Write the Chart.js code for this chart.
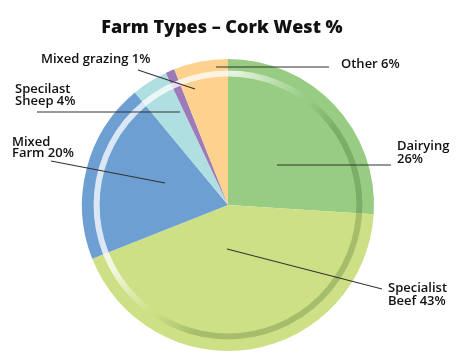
<!DOCTYPE html>
<html>
<head>
<meta charset="utf-8">
<script src="https://cdn.jsdelivr.net/npm/chart.js@4"></script>
<style>
html,body{margin:0;padding:0;background:#fff;}
#wrap{width:463px;height:355px;position:relative;}
</style>
</head>
<body>
<div id="wrap"><canvas id="c" width="463" height="355"></canvas></div>
<script>
// ---- data ----
const categories = ["Dairying", "Specialist Beef", "Mixed Farm", "Specilast Sheep", "Mixed grazing", "Other"];
const values = [26, 43, 20, 4, 1, 6];
const sliceColors = ["#97cc82", "#cde085", "#6e9fd3", "#b0dfe1", "#9d7bb9", "#fdd18e"];
const titleText = "Farm Types \u2013 Cork West %";

// callout annotations: text lines, text position, leader line from/to
const callouts = [
  {lines: ["Dairying", "26%"], tx: 397, ty: 150, lh: 13, from: [277, 165], to: [391, 165]},
  {lines: ["Specialist", "Beef 43%"], tx: 388, ty: 292, lh: 12.5, from: [227, 249], to: [382, 289]},
  {lines: ["Mixed", "Farm 20%"], tx: 12, ty: 145.5, lh: 11.5, from: [165, 183], to: [51, 161]},
  {lines: ["Specilast", "Sheep 4%"], tx: 15, ty: 93, lh: 11.5, from: [180, 112], to: [37, 112]},
  {lines: ["Mixed grazing 1%"], tx: 41, ty: 62.5, lh: 12, from: [195, 89], to: [138, 70]},
  {lines: ["Other 6%"], tx: 341, ty: 68, lh: 12, from: [216, 67], to: [329, 67]}
];

const ringPlugin = {
  id: 'ring',
  afterDatasetsDraw(chart) {
    const arc = chart.getDatasetMeta(0).data[0];
    if (!arc) return;
    const ctx = chart.ctx;
    const cx = arc.x, cy = arc.y, R = arc.outerRadius;
    const g = ctx.createConicGradient(0, cx, cy);
    const dark = 'rgba(20,60,10,0.21)';
    g.addColorStop(0.00, dark);
    g.addColorStop(0.29, dark);
    g.addColorStop(0.345, 'rgba(20,60,10,0)');
    g.addColorStop(0.35, 'rgba(255,255,255,0)');
    g.addColorStop(0.42, 'rgba(255,255,255,0.75)');
    g.addColorStop(0.76, 'rgba(255,255,255,0.75)');
    g.addColorStop(0.85, 'rgba(255,255,255,0)');
    g.addColorStop(0.855, 'rgba(20,60,10,0)');
    g.addColorStop(0.90, dark);
    g.addColorStop(1.00, dark);
    ctx.save();
    ctx.strokeStyle = g;
    ctx.lineWidth = 6;
    ctx.beginPath();
    ctx.arc(cx, cy, R * 0.9, 0, Math.PI * 2);
    ctx.stroke();
    ctx.restore();
  },
  afterDraw(chart) {
    const ctx = chart.ctx;
    ctx.save();
    // title
    ctx.fillStyle = '#111';
    ctx.font = '800 18px "Open Sans"';
    ctx.textAlign = 'center';
    ctx.textBaseline = 'alphabetic';
    ctx.fillText(titleText, 222, 33);
    // callouts
    ctx.strokeStyle = '#333';
    ctx.lineWidth = 1.2;
    ctx.font = '600 13px "Open Sans"';
    ctx.textAlign = 'left';
    callouts.forEach(c => {
      ctx.beginPath();
      ctx.moveTo(c.from[0], c.from[1]);
      ctx.lineTo(c.to[0], c.to[1]);
      ctx.stroke();
      c.lines.forEach((t, i) => ctx.fillText(t, c.tx, c.ty + i * c.lh));
    });
    ctx.restore();
  }
};

new Chart(document.getElementById('c'), {
  type: 'pie',
  data: {
    labels: categories,
    datasets: [{
      data: values,
      backgroundColor: sliceColors,
      borderWidth: 0
    }]
  },
  options: {
    responsive: false,
    animation: false,
    layout: {padding: {top: 59, bottom: 4, left: 0, right: 7}},
    plugins: {
      legend: {display: false},
      title: {display: false},
      tooltip: {enabled: false}
    }
  },
  plugins: [ringPlugin]
});
</script>
</body>
</html>
